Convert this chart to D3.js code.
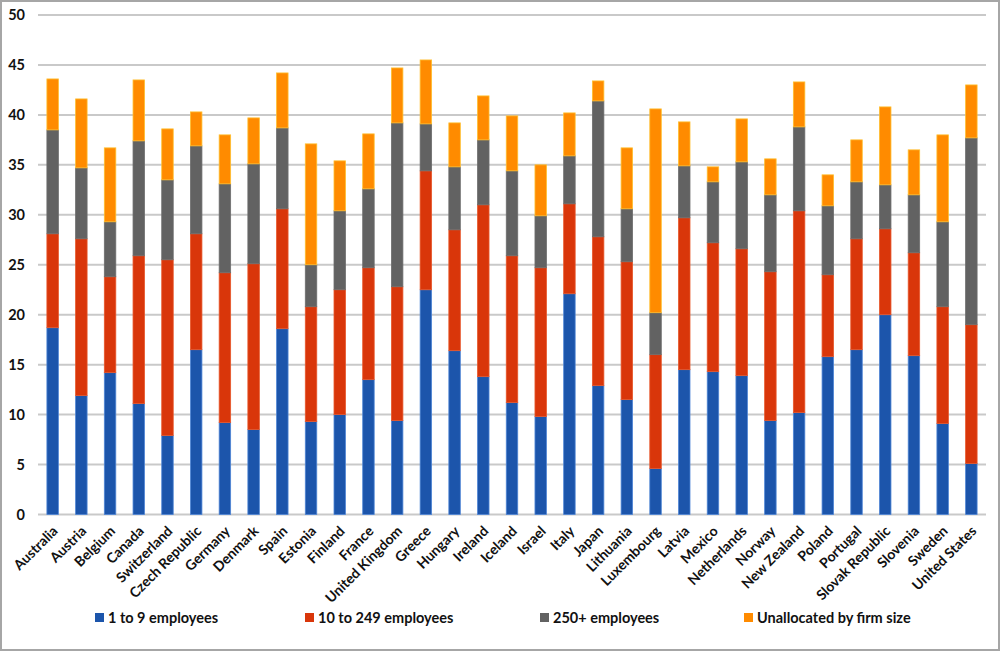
<!DOCTYPE html>
<html>
<head>
<meta charset="utf-8">
<script src="https://cdn.jsdelivr.net/npm/d3@7"></script>
<style>
  body { margin: 0; background: #fff; }
  text { font-family: Lato, "Open Sans", sans-serif; font-weight: 700; fill: #111; }
</style>
</head>
<body>
<div id="chart"></div>
<script>
const countries = ["Australia", "Austria", "Belgium", "Canada", "Switzerland", "Czech Republic",
  "Germany", "Denmark", "Spain", "Estonia", "Finland", "France", "United Kingdom", "Greece",
  "Hungary", "Ireland", "Iceland", "Israel", "Italy", "Japan", "Lithuania", "Luxembourg",
  "Latvia", "Mexico", "Netherlands", "Norway", "New Zealand", "Poland", "Portugal",
  "Slovak Republic", "Slovenia", "Sweden", "United States"];

const seriesNames = ["1 to 9 employees", "10 to 249 employees", "250+ employees", "Unallocated by firm size"];

const small = [18.7, 11.9, 14.2, 11.1, 7.9, 16.5, 9.2, 8.5, 18.6, 9.3, 10.0, 13.5, 9.4, 22.5,
  16.4, 13.8, 11.2, 9.8, 22.1, 12.9, 11.5, 4.6, 14.5, 14.3, 13.9, 9.4, 10.2, 15.8, 16.5,
  20.0, 15.9, 9.1, 5.1];
const medium = [9.4, 15.7, 9.6, 14.8, 17.6, 11.6, 15.0, 16.6, 12.0, 11.5, 12.5, 11.2, 13.4, 11.9,
  12.1, 17.2, 14.7, 14.9, 9.0, 14.9, 13.8, 11.4, 15.2, 12.9, 12.7, 14.9, 20.2, 8.2, 11.1,
  8.6, 10.3, 11.7, 13.9];
const large = [10.4, 7.1, 5.5, 11.5, 8.0, 8.8, 8.9, 10.0, 8.1, 4.2, 7.9, 7.9, 16.4, 4.7,
  6.3, 6.5, 8.5, 5.2, 4.8, 13.6, 5.3, 4.2, 5.2, 6.1, 8.7, 7.7, 8.4, 6.9, 5.7,
  4.4, 5.8, 8.5, 18.7];
const unallocated = [5.1, 6.9, 7.4, 6.1, 5.1, 3.4, 4.9, 4.6, 5.5, 12.1, 5.0, 5.5, 5.5, 6.4,
  4.4, 4.4, 5.5, 5.1, 4.3, 2.0, 6.1, 20.4, 4.4, 1.5, 4.3, 3.6, 4.5, 3.1, 4.2,
  7.8, 4.5, 8.7, 5.3];

const yTicks = [0, 5, 10, 15, 20, 25, 30, 35, 40, 45, 50];

const colors = ["#1c55ab", "#d9360a", "#626262", "#ff8b00"];
const edges = ["#4f86d6", "#e8572a", "#6e6e6e", "#ffbf2e"];

const w = 1000, h = 652;
const svg = d3.select("#chart").append("svg").attr("width", w).attr("height", h);

// frame
svg.append("rect").attr("x", 1).attr("y", 1).attr("width", w - 2).attr("height", 649)
  .attr("fill", "none").attr("stroke", "#a6a6a6").attr("stroke-width", 2);

const x = d3.scaleBand().domain(countries).range([38, 986]).paddingInner(0.6).paddingOuter(0.31);
const y = d3.scaleLinear().domain([0, 50]).range([514.5, 15]);

// gridlines
svg.append("g").selectAll("line").data(yTicks).enter().append("line")
  .attr("x1", 38).attr("x2", 986)
  .attr("y1", d => y(d)).attr("y2", d => y(d))
  .attr("stroke", "#c9c9c9").attr("stroke-width", 2);

// y labels
svg.append("g").selectAll("text").data(yTicks).enter().append("text")
  .attr("x", 25).attr("y", d => y(d)).attr("dy", "0.36em")
  .attr("text-anchor", "end").attr("font-size", 14.5)
  .text(d => d);

const rows = countries.map((c, i) => ({
  country: c, s0: small[i], s1: medium[i], s2: large[i], s3: unallocated[i]
}));
const stack = d3.stack().keys(["s0", "s1", "s2", "s3"])(rows);

svg.append("g").selectAll("g").data(stack).enter().append("g")
  .attr("fill", (d, i) => colors[i])
  .attr("stroke", (d, i) => edges[i])
  .attr("stroke-width", 0.8)
  .selectAll("rect").data(d => d).enter().append("rect")
  .attr("x", d => x(d.data.country))
  .attr("width", x.bandwidth())
  .attr("y", d => y(d[1]))
  .attr("height", d => y(d[0]) - y(d[1]));

// x labels
svg.append("g").selectAll("text").data(countries).enter().append("text")
  .attr("transform", d => `translate(${x(d) + x.bandwidth() / 2 + 6},${532}) rotate(-45)`)
  .attr("text-anchor", "end").attr("font-size", 14)
  .text(d => d);

// legend
const legendX = [95, 305, 540, 744];
const lg = svg.append("g").selectAll("g").data(seriesNames).enter().append("g")
  .attr("transform", (d, i) => `translate(${legendX[i]},618)`);
lg.append("rect").attr("x", 0).attr("y", -5).attr("width", 9).attr("height", 9)
  .attr("fill", (d, i) => colors[i]);
lg.append("text").attr("x", 13).attr("dy", "0.35em").attr("font-size", 14.5).text(d => d);
</script>
</body>
</html>
